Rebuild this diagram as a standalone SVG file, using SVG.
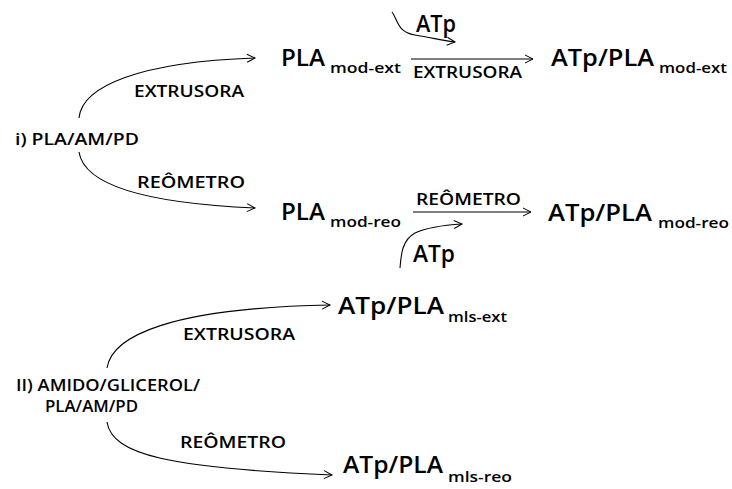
<svg xmlns="http://www.w3.org/2000/svg" width="732" height="489" viewBox="0 0 732 489">
<defs>
<marker id="ah" markerUnits="userSpaceOnUse" markerWidth="10" markerHeight="10" refX="8" refY="4" orient="auto" overflow="visible">
<path d="M0,0 L8,4 L0,8" fill="none" stroke="#000" stroke-width="1"/>
</marker>
</defs>
<style>
text{font-family:"Open Sans","Liberation Sans",sans-serif;font-weight:600;fill:#000}
.big{font-size:23px}
.sub{font-size:14px}
.lbl{font-size:16px}
.c{fill:none;stroke:#000;stroke-width:1.1;marker-end:url(#ah)}
</style>
<rect width="732" height="489" fill="#fff"/>
<g id="connectors">
<path class="c" d="M79,118 C82,86 140,62 255,58"/>
<path class="c" d="M79,152 C84,184 140,203 255,208"/>
<path class="c" d="M411,59 L533,59"/>
<path class="c" d="M413,212 L531,212"/>
<path class="c" d="M392,12 C398,20 397,32 415,35 S445,41 455,42"/>
<path class="c" d="M400,268 C401,255 402,240 415,233 C428,227 445,225 462,224"/>
<path class="c" d="M107,368 C112,336 170,308 330,305"/>
<path class="c" d="M107,422 C112,455 170,468 332,475"/>
</g>
<g id="n-pla-am-pd"><text class="lbl" x="15" y="145" textLength="124" lengthAdjust="spacingAndGlyphs">i) PLA/AM/PD</text></g>
<g id="lbl-ext-1"><text class="lbl" x="134" y="97" textLength="110" lengthAdjust="spacingAndGlyphs">EXTRUSORA</text></g>
<g id="lbl-reo-1"><text class="lbl" x="137" y="188" textLength="108" lengthAdjust="spacingAndGlyphs">REÔMETRO</text></g>
<g id="n-pla-mod-ext">
<text class="big" x="281" y="66" textLength="44" lengthAdjust="spacingAndGlyphs">PLA</text>
<text class="sub" x="330" y="73" textLength="71" lengthAdjust="spacingAndGlyphs">mod-ext</text>
</g>
<g id="n-pla-mod-reo">
<text class="big" x="281" y="220" textLength="44" lengthAdjust="spacingAndGlyphs">PLA</text>
<text class="sub" x="330" y="227" textLength="71" lengthAdjust="spacingAndGlyphs">mod-reo</text>
</g>
<g id="n-atp-top"><text class="big" x="416" y="32" textLength="40" lengthAdjust="spacingAndGlyphs">ATp</text></g>
<g id="lbl-ext-2"><text class="lbl" x="413" y="78" textLength="109" lengthAdjust="spacingAndGlyphs">EXTRUSORA</text></g>
<g id="lbl-reo-2"><text class="lbl" x="416" y="205" textLength="105" lengthAdjust="spacingAndGlyphs">REÔMETRO</text></g>
<g id="n-atp-bottom"><text class="big" x="413" y="262" textLength="42" lengthAdjust="spacingAndGlyphs">ATp</text></g>
<g id="n-atp-pla-mod-ext">
<text class="big" x="551" y="66" textLength="103" lengthAdjust="spacingAndGlyphs">ATp/PLA</text>
<text class="sub" x="659" y="73" textLength="68" lengthAdjust="spacingAndGlyphs">mod-ext</text>
</g>
<g id="n-atp-pla-mod-reo">
<text class="big" x="548" y="221" textLength="104" lengthAdjust="spacingAndGlyphs">ATp/PLA</text>
<text class="sub" x="658" y="228" textLength="71" lengthAdjust="spacingAndGlyphs">mod-reo</text>
</g>
<g id="n-amido">
<text class="lbl" x="16" y="391" textLength="184" lengthAdjust="spacingAndGlyphs">II) AMIDO/GLICEROL/</text>
<text class="lbl" x="45" y="412" textLength="93" lengthAdjust="spacingAndGlyphs">PLA/AM/PD</text>
</g>
<g id="lbl-ext-3"><text class="lbl" x="183" y="340" textLength="112" lengthAdjust="spacingAndGlyphs">EXTRUSORA</text></g>
<g id="lbl-reo-3"><text class="lbl" x="180" y="448" textLength="106" lengthAdjust="spacingAndGlyphs">REÔMETRO</text></g>
<g id="n-atp-pla-mls-ext">
<text class="big" x="338" y="314" textLength="106" lengthAdjust="spacingAndGlyphs">ATp/PLA</text>
<text class="sub" x="448" y="322" textLength="59" lengthAdjust="spacingAndGlyphs">mls-ext</text>
</g>
<g id="n-atp-pla-mls-reo">
<text class="big" x="343" y="473" textLength="100" lengthAdjust="spacingAndGlyphs">ATp/PLA</text>
<text class="sub" x="448" y="482" textLength="64" lengthAdjust="spacingAndGlyphs">mls-reo</text>
</g>
</svg>
